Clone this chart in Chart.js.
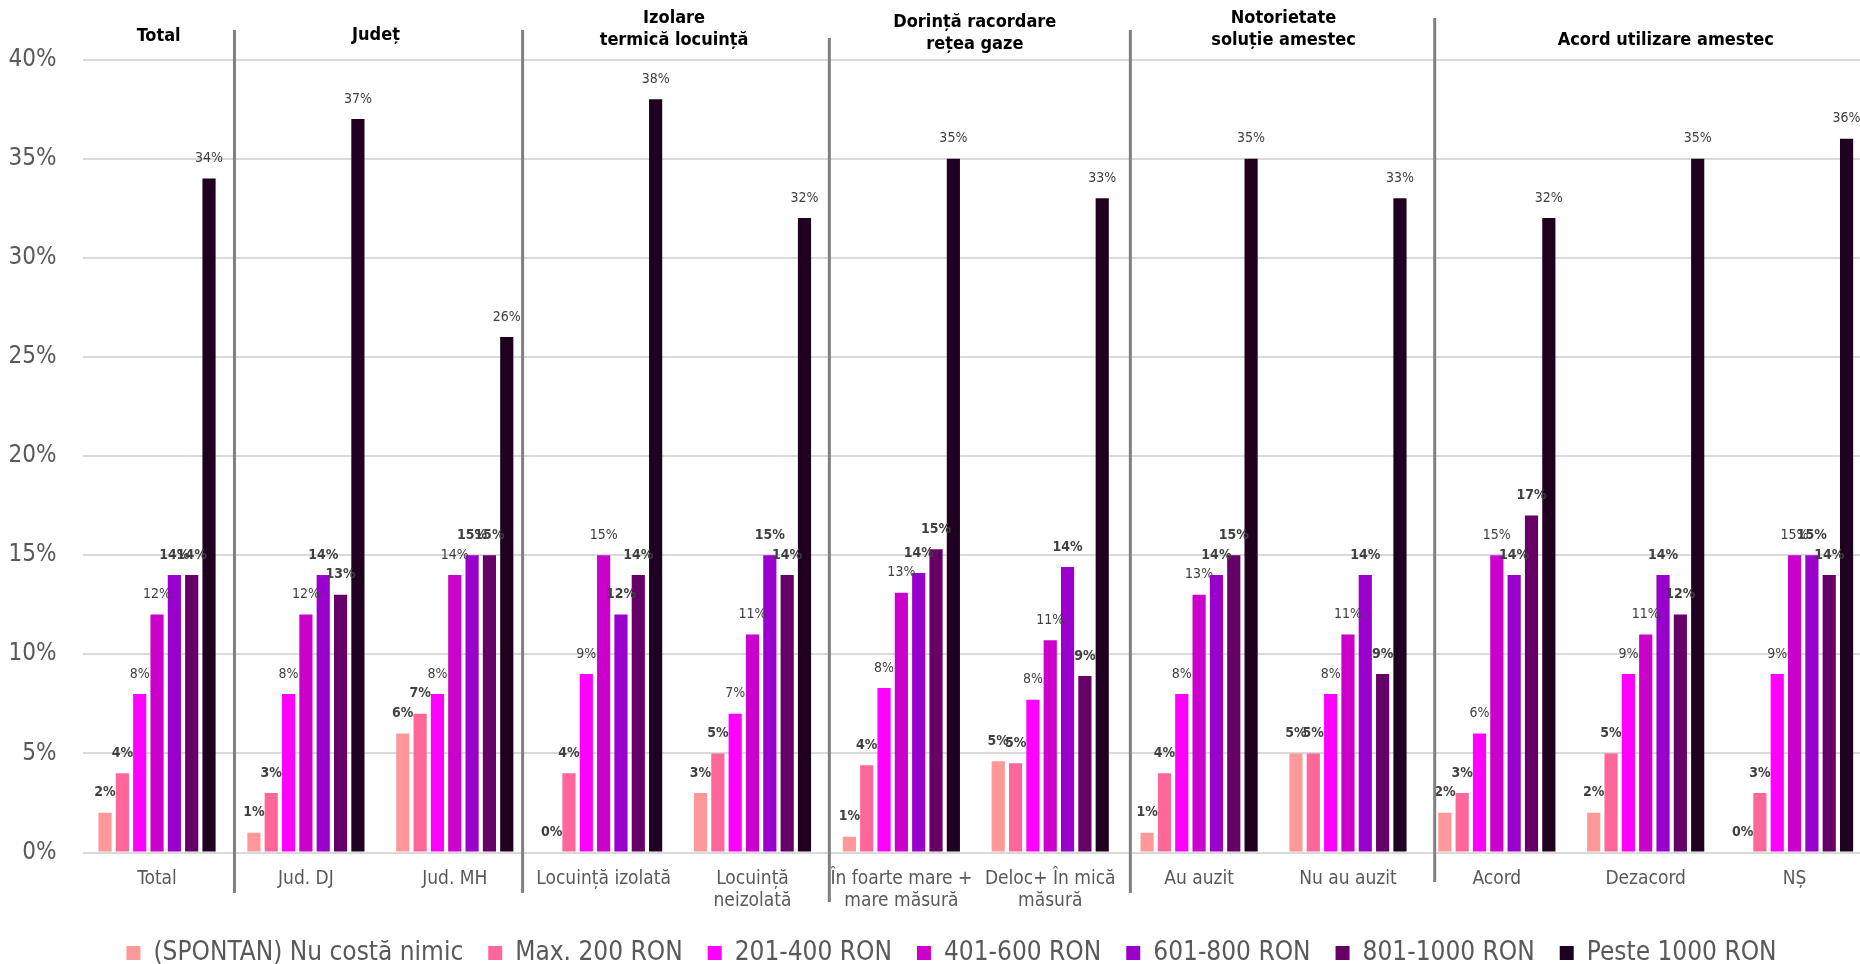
<!DOCTYPE html>
<html>
<head>
<meta charset="utf-8">
<script src="https://cdn.jsdelivr.net/npm/chart.js@4.4.0/dist/chart.umd.min.js"></script>
<style>
  html, body { margin: 0; padding: 0; overflow: hidden; background: #fff; }
  canvas { display: block; }
</style>
</head>
<body>
<canvas id="chart" width="1869" height="976"></canvas>
<script>
const categories = [
    'Total', 'Jud. DJ', 'Jud. MH', 'Locuință izolată', ['Locuință', 'neizolată'],
    ['În foarte mare +', 'mare măsură'], ['Deloc+ În mică', 'măsură'],
    'Au auzit', 'Nu au auzit', 'Acord', 'Dezacord', 'NȘ'
];

const seriesNames = [
    '(SPONTAN) Nu costă nimic', 'Max. 200 RON', '201-400 RON', '401-600 RON',
    '601-800 RON', '801-1000 RON', 'Peste 1000 RON'
];

const spontan   = [2, 1, 6, 0, 3, 0.8, 4.6, 1, 5, 2, 2, 0];
const max200    = [4, 3, 7, 4, 5, 4.4, 4.5, 4, 5, 3, 5, 3];
const ron201    = [8, 8, 8, 9, 7, 8.3, 7.7, 8, 8, 6, 9, 9];
const ron401    = [12, 12, 14, 15, 11, 13.1, 10.7, 13, 11, 15, 11, 15];
const ron601    = [14, 14, 15, 12, 15, 14.1, 14.4, 14, 14, 14, 14, 15];
const ron801    = [14, 13, 15, 14, 14, 15.3, 8.9, 15, 9, 17, 12, 14];
const peste1000 = [34, 37, 26, 38, 32, 35, 33, 35, 33, 32, 35, 36];

const yTicks = [0, 5, 10, 15, 20, 25, 30, 35, 40];

const groupTitles = [
    ['Total'], ['Județ'], ['Izolare', 'termică locuință'],
    ['Dorință racordare', 'rețea gaze'], ['Notorietate', 'soluție amestec'],
    ['Acord utilizare amestec']
];
const groupSpans = [[0, 0], [1, 2], [3, 4], [5, 6], [7, 8], [9, 11]];

// styling
const colors = ['#FF9999', '#FF6699', '#FF00FF', '#CC00CC', '#9900CC', '#660066', '#200020'];
const boldLabels = [true, true, false, false, true, true, false];
const FONT = "'DejaVu Sans Condensed', 'DejaVu Sans', sans-serif";

// header placement (dx from group middle, y of each line)
const headerPlace = [
    { dx: 1.6, ys: [36] },
    { dx: -4.4, ys: [35] },
    { dx: -4, ys: [18, 40] },
    { dx: -1, ys: [22, 44] },
    { dx: 10, ys: [18, 40] },
    { dx: 20, ys: [40] }
];
// dividers after category index
const dividers = [
    { after: 0, dx: 3, top: 30, bottom: 893 },
    { after: 2, dx: -6.6, top: 30, bottom: 893 },
    { after: 4, dx: 2.4, top: 38, bottom: 902 },
    { after: 6, dx: 5.7, top: 30, bottom: 893 },
    { after: 8, dx: 12.3, top: 18, bottom: 882 }
];

const allSeries = [spontan, max200, ron201, ron401, ron601, ron801, peste1000];

const valueLabels = {
    id: 'valueLabels',
    afterDatasetsDraw(chart) {
        const ctx = chart.ctx;
        ctx.save();
        ctx.fillStyle = '#404040';
        ctx.textAlign = 'center';
        ctx.textBaseline = 'middle';
        chart.data.datasets.forEach((ds, di) => {
            ctx.font = (boldLabels[di] ? 'bold ' : '') + '14px ' + FONT;
            chart.getDatasetMeta(di).data.forEach((bar, i) => {
                ctx.fillText(Math.round(ds.data[i]) + '%', bar.x, bar.y - 20);
            });
        });
        ctx.restore();
    }
};

const groupDecor = {
    id: 'groupDecor',
    afterLayout(chart) {
        // legend in the original sits a bit right of the canvas centre
        chart.legend.left += 17;
        chart.legend.right += 17;
    },
    afterDraw(chart) {
        const ctx = chart.ctx;
        const x = chart.scales.x;
        ctx.save();
        ctx.strokeStyle = '#808080';
        ctx.lineWidth = 3;
        dividers.forEach(d => {
            const px = (x.getPixelForValue(d.after) + x.getPixelForValue(d.after + 1)) / 2 + d.dx;
            ctx.beginPath();
            ctx.moveTo(px, d.top);
            ctx.lineTo(px, d.bottom);
            ctx.stroke();
        });
        ctx.fillStyle = '#000000';
        ctx.font = 'bold 18px ' + FONT;
        ctx.textAlign = 'center';
        ctx.textBaseline = 'middle';
        groupTitles.forEach((lines, g) => {
            const [a, b] = groupSpans[g];
            const px = (x.getPixelForValue(a) + x.getPixelForValue(b)) / 2 + headerPlace[g].dx;
            lines.forEach((line, k) => {
                ctx.fillText(line, px, headerPlace[g].ys[k]);
            });
        });
        ctx.restore();
    }
};

const ctx = document.getElementById('chart').getContext('2d');
new Chart(ctx, {
    type: 'bar',
    data: {
        labels: categories,
        datasets: allSeries.map((data, i) => ({
            label: seriesNames[i],
            data: data,
            backgroundColor: colors[i],
            borderWidth: 0,
            categoryPercentage: 0.815,
            barPercentage: 0.76
        }))
    },
    options: {
        responsive: false,
        animation: false,
        layout: { padding: { top: 59.5, left: 0, right: 0, bottom: 0 } },
        scales: {
            x: {
                grid: { display: false, drawTicks: false },
                border: { display: false },
                ticks: {
                    color: '#595959',
                    font: { family: FONT, size: 19, lineHeight: 1.16 },
                    padding: 16,
                    maxRotation: 0,
                    autoSkip: false
                },
                afterFit(scale) { scale.height = 62.5; }
            },
            y: {
                min: 0,
                max: 40,
                afterBuildTicks(scale) { scale.ticks = yTicks.map(v => ({ value: v })); },
                grid: { color: '#D9D9D9', lineWidth: 2, drawTicks: false },
                border: { display: false },
                ticks: {
                    color: '#595959',
                    font: { family: FONT, size: 24 },
                    padding: 26,
                    callback: v => v + '%'
                },
                afterFit(scale) { scale.width = 82.6; }
            }
        },
        plugins: {
            legend: {
                position: 'bottom',
                labels: {
                    color: '#595959',
                    font: { family: FONT, size: 26 },
                    boxWidth: 14,
                    boxHeight: 14,
                    padding: 25
                }
            },
            tooltip: { enabled: false }
        }
    },
    plugins: [valueLabels, groupDecor]
});
</script>
</body>
</html>
